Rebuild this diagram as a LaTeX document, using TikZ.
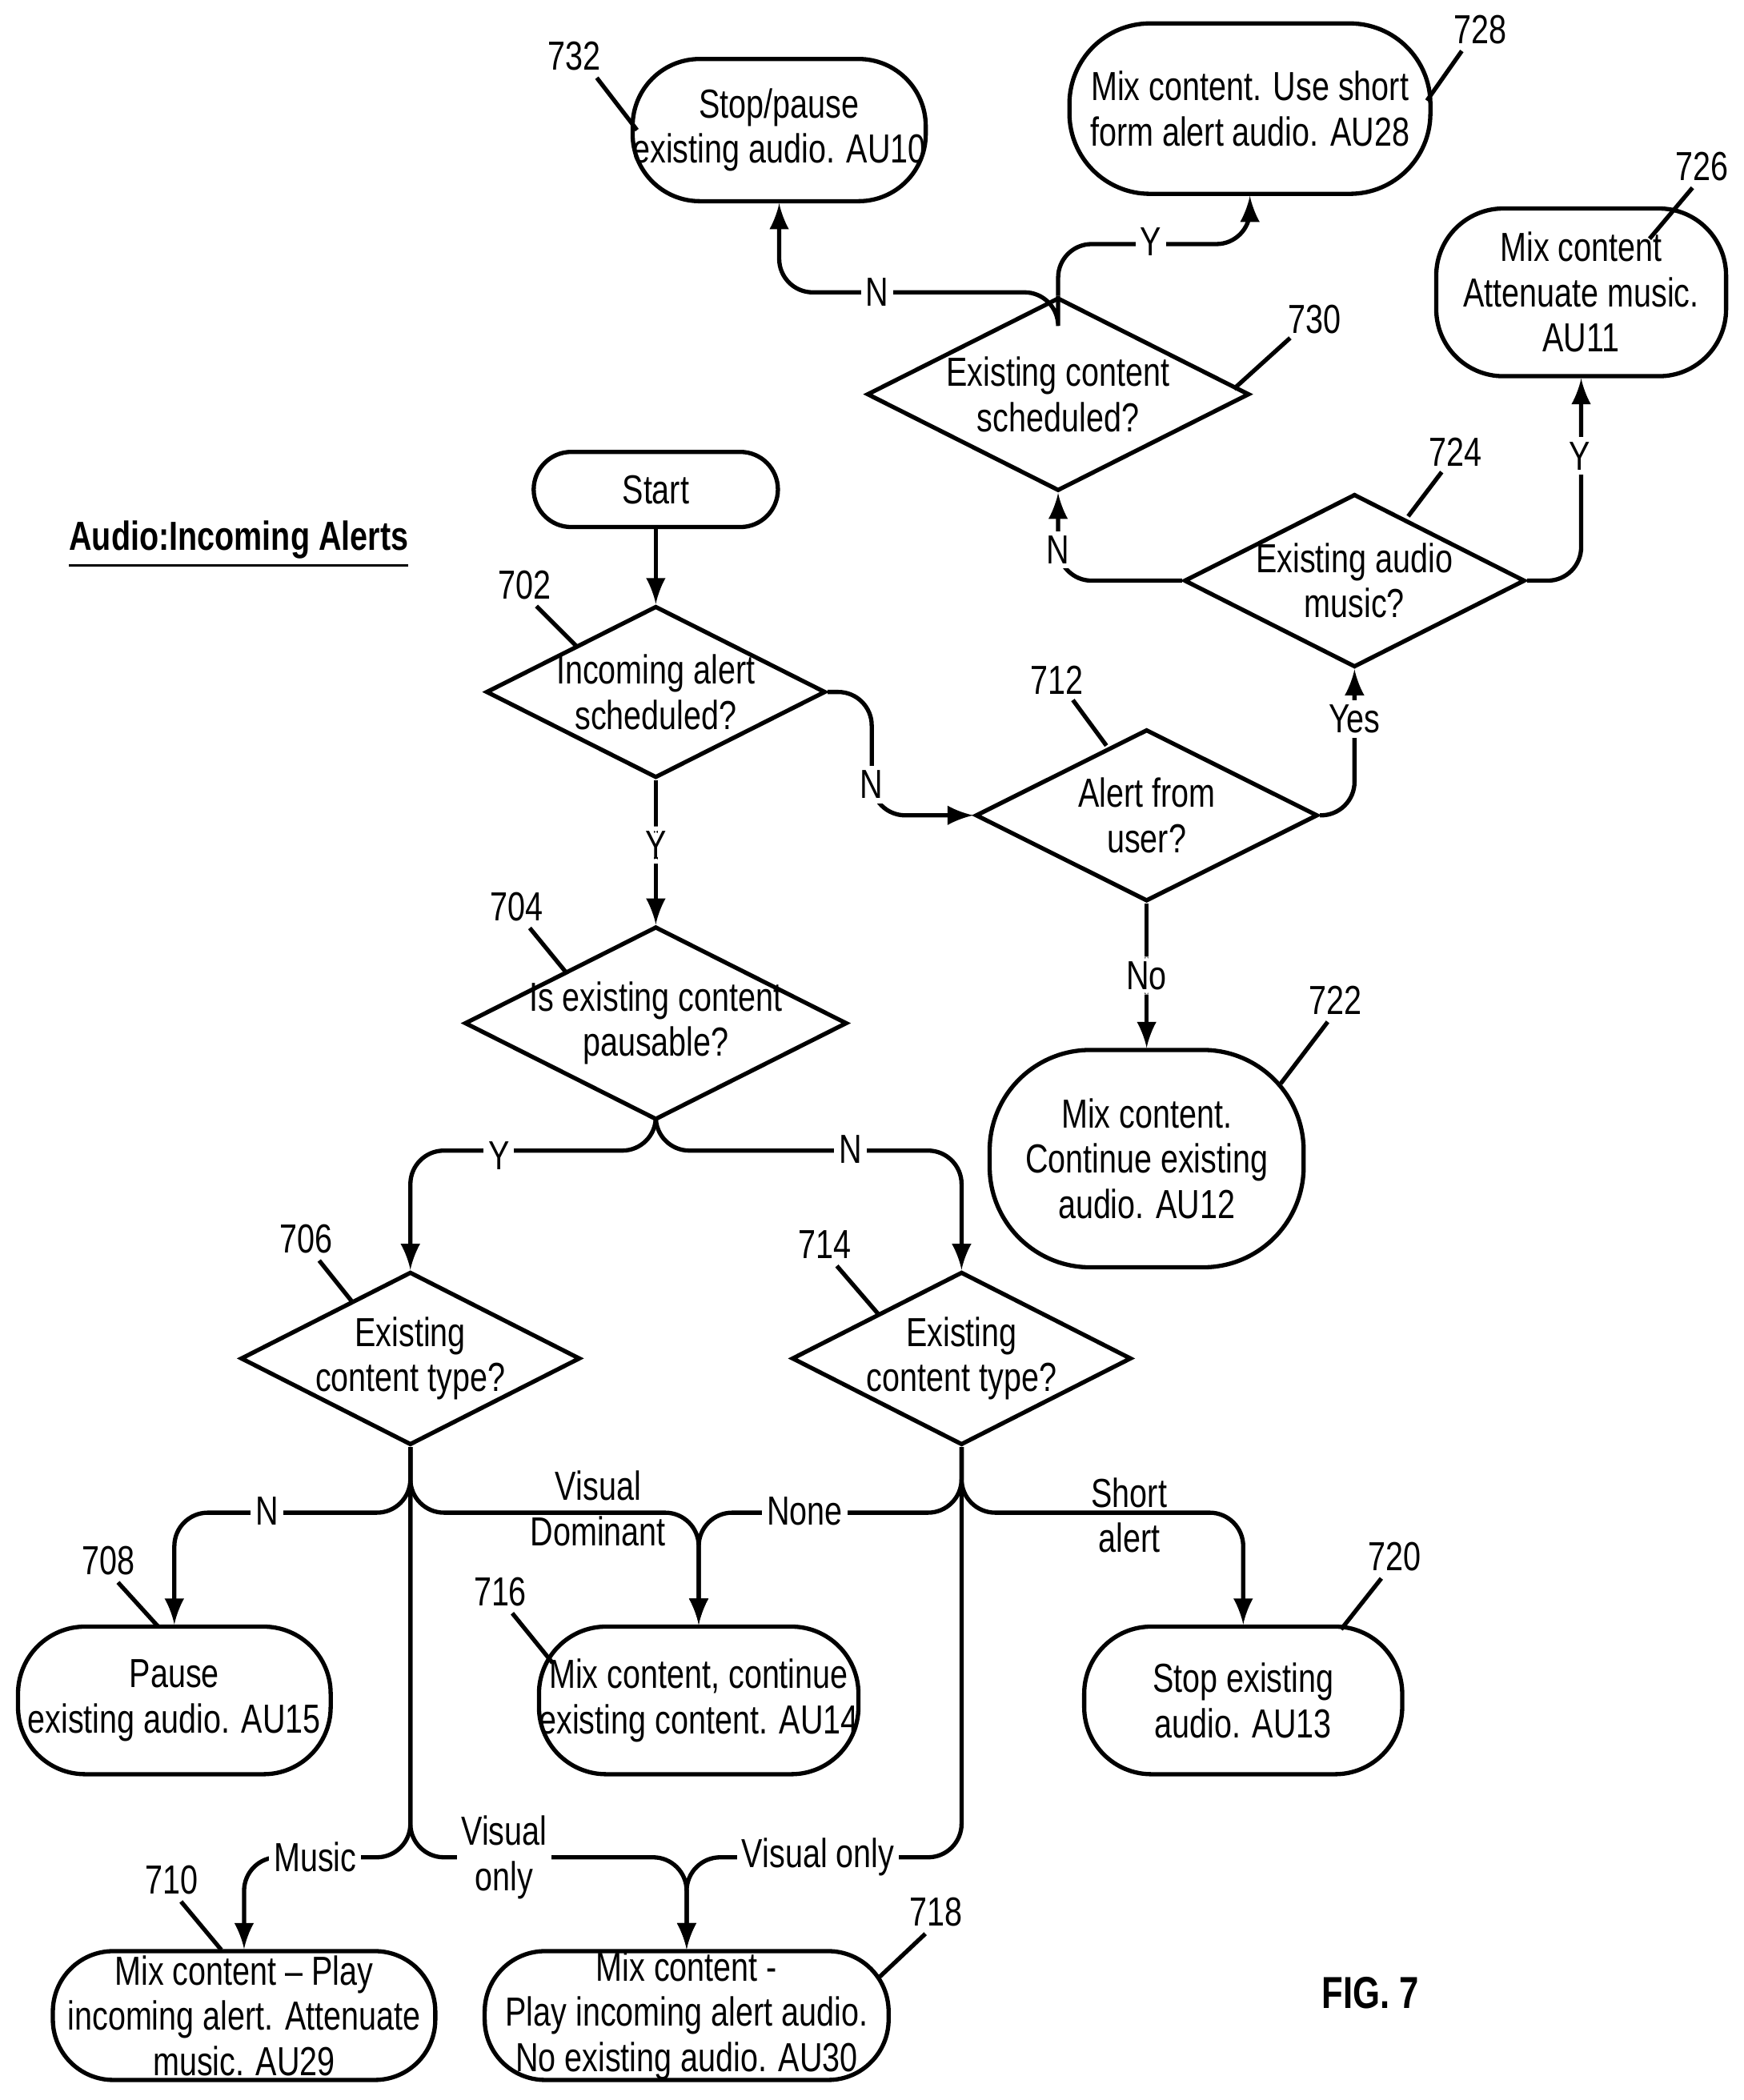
\documentclass[tikz,border=0pt]{standalone}
\usepackage{fontspec}
\setmainfont[FakeStretch=0.78]{Liberation Sans}
\usetikzlibrary{shapes.geometric,arrows}
\begin{document}
\begin{tikzpicture}[x=0.01cm,y=-0.01cm,line width=0.9pt,
		every node/.style={font=\fontsize{8.6}{9.6}\selectfont,align=center},
		dia/.style={draw,diamond,inner sep=0pt},
		term/.style={draw,rounded corners=0.5cm,inner sep=0pt},
		conn/.style={-latex,rounded corners=0.25cm},
		lbl/.style={fill=white,inner sep=1pt},
		ref/.style={inner sep=1pt}]
		\useasboundingbox (0,0) rectangle (1300,1566);
		
		% terminals
		\node[term,minimum width=1.82cm,minimum height=0.56cm,rounded corners=0.28cm] (start) at (489,365) {Start};
		\node[term,minimum width=2.16cm,minimum height=1.06cm] (t732) at (581,97) {Stop/pause\\existing audio. AU10};
		\node[term,minimum width=2.69cm,minimum height=1.27cm,rounded corners=0.6cm] (t728) at (932,81) {Mix content. Use short\\form alert audio. AU28};
		\node[term,minimum width=2.16cm,minimum height=1.25cm] (t726) at (1179,218) {Mix content\\Attenuate music.\\AU11};
		\node[term,minimum width=2.34cm,minimum height=1.62cm,rounded corners=0.75cm] (t722) at (855,864) {Mix content.\\Continue existing\\audio. AU12};
		\node[term,minimum width=2.33cm,minimum height=1.10cm] (t708) at (130,1268) {Pause\\existing audio. AU15};
		\node[term,minimum width=2.37cm,minimum height=1.10cm] (t716) at (521,1268) {Mix content, continue\\existing content. AU14};
		\node[term,minimum width=2.37cm,minimum height=1.10cm] (t720) at (927,1268) {Stop existing\\audio. AU13};
		\node[term,minimum width=2.85cm,minimum height=0.96cm,rounded corners=0.45cm] (t710) at (182,1503) {Mix content -- Play\\incoming alert. Attenuate\\music. AU29};
		\node[term,minimum width=3.01cm,minimum height=0.96cm,rounded corners=0.45cm] (t718) at (512,1503) {Mix content -\\Play incoming alert audio.\\No existing audio. AU30};
		
		% decisions
		\node[dia,minimum width=2.53cm,minimum height=1.28cm] (d702) at (489,516) {};
		\node at (d702) {Incoming alert\\scheduled?};
		\node[dia,minimum width=2.85cm,minimum height=1.44cm] (d704) at (489,763) {};
		\node at (d704) {Is existing content\\pausable?};
		\node[dia,minimum width=2.55cm,minimum height=1.28cm] (d712) at (855,608) {};
		\node at (d712) {Alert from\\user?};
		\node[dia,minimum width=2.54cm,minimum height=1.29cm] (d724) at (1010,433) {};
		\node at (d724) {Existing audio\\music?};
		\node[dia,minimum width=2.85cm,minimum height=1.44cm] (d730) at (789,294) {};
		\node at (d730) {Existing content\\scheduled?};
		\node[dia,minimum width=2.53cm,minimum height=1.29cm] (d706) at (306,1013) {};
		\node at (d706) {Existing\\content type?};
		\node[dia,minimum width=2.53cm,minimum height=1.29cm] (d714) at (717,1013) {};
		\node at (d714) {Existing\\content type?};
		
		\node[font=\bfseries\fontsize{8.6}{9.6}\selectfont] (title) at (178,406) {\underline{Audio:Incoming Alerts}};
		\node[font=\bfseries\fontsize{9.5}{10}\selectfont] (fig) at (1022,1486) {FIG. 7};
		
		% connectors
		\draw[conn] (start) -- (d702);
		\draw[conn] (d702.south) -- (d704.north) node[lbl,pos=0.45] {Y};
		\draw[conn] (d702.east) -| (650,608) -- (d712.west);
		\node[lbl] (n702) at (650,585) {N};
		\draw[conn] (d712.south) -- (t722.north) node[lbl,pos=0.5] {No};
		\draw[conn] (d712.east) -| (d724.south);
		\node[lbl] (y712) at (1010,536) {Yes};
		\draw[conn] (d724.east) -| (t726.south);
		\node[lbl] (y724) at (1178,340) {Y};
		\draw[conn] (d724.west) -| (d730.south);
		\node[lbl] (n724) at (789,410) {N};
		\draw[conn] (d730.north) |- (932,182) -- (t728.south);
		\node[lbl] (y730) at (858,180) {Y};
		\draw[conn] (d730.north) -- (789,218) -| (t732.south);
		\node[lbl] (n730) at (654,218) {N};
		\draw[conn] (d704.south) -- (489,858) -| (d706.north);
		\node[lbl] (y704) at (372,862) {Y};
		\draw[conn] (d704.south) -- (489,858) -| (d714.north);
		\node[lbl] (n704) at (634,857) {N};
		\draw[conn] (d706.south) -- (306,1128) -| (t708.north);
		\node[lbl] (n706) at (199,1127) {N};
		\draw[conn] (d706.south) -- (306,1128) -| (t716.north);
		\node (vd706) at (446,1125) {Visual\\Dominant};
		\draw[conn] (d706.south) -- (306,1385) -| (t710.north);
		\node[lbl] (m706) at (235,1385) {Music};
		\draw[conn] (d706.south) -- (306,1385) -| (t718.north);
		\node[lbl] (vo706) at (376,1385) {Visual\\only};
		\draw[conn] (d714.south) -- (717,1128) -| (t716.north);
		\node[lbl] (no714) at (600,1127) {None};
		\draw[conn] (d714.south) -- (717,1128) -| (t720.north);
		\node (sa714) at (842,1130) {Short\\alert};
		\draw[conn] (d714.south) -- (717,1385) -| (t718.north);
		\node[lbl] (vo714) at (610,1385) {Visual only};
		
		% reference numerals
		\foreach \num/\lx/\ly/\ax/\ay/\bx/\by in {732/428/42/445/58/475/97, 728/1104/22/1090/38/1064/75,
			726/1269/124/1262/140/1230/178, 730/980/238/962/252/920/290, 724/1085/337/1075/352/1050/385,
			712/788/507/800/522/825/556, 702/391/436/400/452/430/482, 704/385/676/395/692/422/725,
			722/996/746/990/762/955/808, 706/228/924/238/940/262/970, 714/615/928/624/944/655/980,
			708/81/1164/88/1180/118/1213, 716/373/1187/382/1203/412/1240, 720/1040/1161/1030/1177/1000/1215,
			710/128/1402/135/1418/165/1454, 718/698/1426/690/1442/655/1475}{
			\node[ref] (r\num) at (\lx,\ly) {\num};
			\coordinate (e\num) at (\bx,\by);
			\draw (\ax,\ay) -- (e\num);
		}
\end{tikzpicture}
\end{document}
